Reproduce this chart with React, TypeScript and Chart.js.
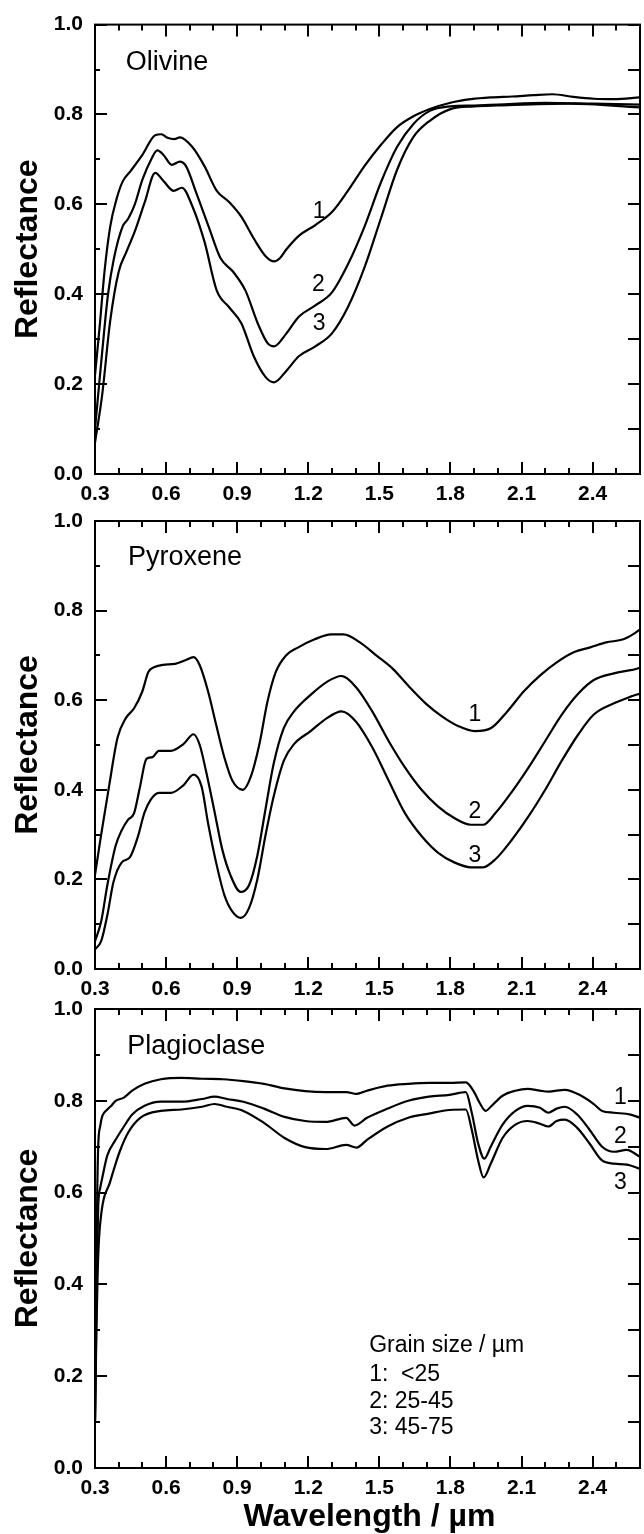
import React, { useEffect, useRef } from 'react';
import { Chart, registerables } from 'chart.js';
Chart.register(...registerables);

// ---------- tick values ----------
const xTickValues = [0.3, 0.6, 0.9, 1.2, 1.5, 1.8, 2.1, 2.4];
const yTickValues = [0.0, 0.2, 0.4, 0.6, 0.8, 1.0];
const xMinorValues = [0.3, 0.4, 0.5, 0.6, 0.7, 0.8, 0.9, 1.0, 1.1, 1.2, 1.3, 1.4, 1.5, 1.6, 1.7, 1.8, 1.9, 2.0, 2.1, 2.2, 2.3, 2.4, 2.5, 2.6];
const yMinorValues = [0.0, 0.1, 0.2, 0.3, 0.4, 0.5, 0.6, 0.7, 0.8, 0.9, 1.0];

// ---------- Olivine ----------
const olivine1Wl = [0.30, 0.32, 0.34, 0.364, 0.39, 0.416, 0.45, 0.50, 0.554, 0.58, 0.606, 0.635, 0.658, 0.71, 0.762, 0.814, 0.866, 0.918, 0.97, 1.021, 1.056, 1.08, 1.108, 1.16, 1.23, 1.30, 1.367, 1.437, 1.506, 1.575, 1.644, 1.713, 1.80, 1.886, 1.97, 2.06, 2.15, 2.23, 2.32, 2.405, 2.49, 2.6];
const olivine1R = [0.22, 0.33, 0.45, 0.55, 0.61, 0.65, 0.674, 0.71, 0.754, 0.756, 0.748, 0.745, 0.749, 0.728, 0.685, 0.63, 0.605, 0.572, 0.524, 0.484, 0.473, 0.48, 0.50, 0.53, 0.554, 0.583, 0.63, 0.685, 0.732, 0.772, 0.796, 0.812, 0.826, 0.834, 0.838, 0.84, 0.843, 0.845, 0.839, 0.835, 0.834, 0.838];
const olivine2Wl = [0.30, 0.33, 0.355, 0.38, 0.416, 0.44, 0.468, 0.50, 0.537, 0.563, 0.589, 0.624, 0.658, 0.684, 0.727, 0.78, 0.83, 0.883, 0.935, 0.987, 1.03, 1.056, 1.108, 1.16, 1.23, 1.30, 1.367, 1.437, 1.506, 1.575, 1.644, 1.713, 1.80, 1.90, 2.0, 2.2, 2.4, 2.6];
const olivine2R = [0.10, 0.27, 0.40, 0.48, 0.55, 0.568, 0.60, 0.655, 0.70, 0.72, 0.71, 0.688, 0.695, 0.685, 0.626, 0.55, 0.48, 0.45, 0.408, 0.335, 0.29, 0.284, 0.313, 0.35, 0.375, 0.404, 0.466, 0.55, 0.648, 0.728, 0.779, 0.808, 0.818, 0.82, 0.822, 0.826, 0.824, 0.822];
const olivine3Wl = [0.30, 0.33, 0.364, 0.40, 0.433, 0.468, 0.51, 0.554, 0.589, 0.632, 0.667, 0.71, 0.762, 0.814, 0.866, 0.918, 0.97, 1.021, 1.056, 1.108, 1.16, 1.23, 1.30, 1.367, 1.437, 1.506, 1.575, 1.644, 1.713, 1.80, 1.90, 2.0, 2.3, 2.6];
const olivine3R = [0.07, 0.175, 0.34, 0.45, 0.495, 0.54, 0.605, 0.67, 0.652, 0.63, 0.637, 0.597, 0.517, 0.408, 0.371, 0.335, 0.262, 0.215, 0.204, 0.23, 0.262, 0.284, 0.313, 0.371, 0.459, 0.568, 0.677, 0.75, 0.786, 0.812, 0.818, 0.82, 0.824, 0.816];
const olivineNumWl = [1.246, 1.243, 1.246];
const olivineNumR = [0.583, 0.422, 0.335];

// ---------- Pyroxene ----------
const pyroxene1Wl = [0.30, 0.326, 0.36, 0.395, 0.43, 0.465, 0.50, 0.525, 0.551, 0.586, 0.638, 0.681, 0.716, 0.742, 0.777, 0.811, 0.846, 0.88, 0.924, 0.958, 0.993, 1.028, 1.063, 1.106, 1.158, 1.227, 1.297, 1.349, 1.418, 1.487, 1.557, 1.626, 1.695, 1.764, 1.834, 1.903, 1.972, 2.04, 2.11, 2.18, 2.25, 2.32, 2.39, 2.457, 2.53, 2.57, 2.6];
const pyroxene1R = [0.21, 0.30, 0.41, 0.516, 0.56, 0.582, 0.62, 0.663, 0.674, 0.679, 0.681, 0.689, 0.696, 0.678, 0.62, 0.546, 0.472, 0.42, 0.40, 0.43, 0.50, 0.597, 0.663, 0.70, 0.718, 0.736, 0.747, 0.747, 0.729, 0.70, 0.67, 0.63, 0.593, 0.564, 0.542, 0.531, 0.538, 0.575, 0.62, 0.656, 0.685, 0.707, 0.718, 0.729, 0.736, 0.747, 0.758];
const pyroxene2Wl = [0.30, 0.326, 0.352, 0.387, 0.413, 0.439, 0.465, 0.49, 0.517, 0.543, 0.569, 0.62, 0.673, 0.716, 0.742, 0.768, 0.803, 0.837, 0.872, 0.915, 0.95, 0.985, 1.019, 1.054, 1.097, 1.14, 1.21, 1.279, 1.34, 1.40, 1.47, 1.539, 1.608, 1.678, 1.747, 1.816, 1.886, 1.938, 1.99, 2.06, 2.13, 2.2, 2.27, 2.34, 2.405, 2.49, 2.56, 2.6];
const pyroxene2R = [0.062, 0.106, 0.187, 0.275, 0.31, 0.333, 0.348, 0.407, 0.469, 0.473, 0.487, 0.487, 0.502, 0.524, 0.50, 0.443, 0.355, 0.267, 0.209, 0.172, 0.187, 0.253, 0.355, 0.458, 0.538, 0.575, 0.612, 0.641, 0.654, 0.63, 0.575, 0.509, 0.45, 0.40, 0.363, 0.337, 0.322, 0.322, 0.348, 0.396, 0.45, 0.509, 0.568, 0.615, 0.645, 0.66, 0.667, 0.672];
const pyroxene3Wl = [0.30, 0.326, 0.352, 0.378, 0.413, 0.447, 0.482, 0.508, 0.534, 0.569, 0.62, 0.673, 0.716, 0.75, 0.777, 0.811, 0.846, 0.88, 0.915, 0.95, 0.985, 1.019, 1.054, 1.097, 1.14, 1.21, 1.279, 1.34, 1.40, 1.47, 1.539, 1.608, 1.678, 1.747, 1.816, 1.886, 1.938, 1.99, 2.06, 2.13, 2.2, 2.27, 2.34, 2.405, 2.49, 2.56, 2.6];
const pyroxene3R = [0.044, 0.062, 0.12, 0.194, 0.238, 0.249, 0.297, 0.348, 0.377, 0.393, 0.393, 0.41, 0.434, 0.407, 0.326, 0.238, 0.165, 0.128, 0.114, 0.136, 0.20, 0.297, 0.385, 0.465, 0.502, 0.531, 0.56, 0.575, 0.553, 0.495, 0.421, 0.348, 0.297, 0.26, 0.238, 0.227, 0.227, 0.245, 0.289, 0.341, 0.40, 0.465, 0.524, 0.568, 0.593, 0.608, 0.615];
const pyroxeneNumWl = [1.903, 1.903, 1.903];
const pyroxeneNumR = [0.568, 0.352, 0.253];

// ---------- Plagioclase ----------
const plagioclase1Wl = [0.30, 0.305, 0.31, 0.314, 0.322, 0.331, 0.352, 0.37, 0.387, 0.422, 0.457, 0.509, 0.578, 0.665, 0.752, 0.839, 0.926, 1.013, 1.10, 1.187, 1.274, 1.36, 1.404, 1.448, 1.535, 1.622, 1.709, 1.796, 1.865, 1.90, 1.926, 1.949, 1.97, 2.02, 2.074, 2.126, 2.178, 2.213, 2.283, 2.352, 2.405, 2.44, 2.49, 2.56, 2.6];
const plagioclase1R = [0.10, 0.40, 0.62, 0.707, 0.745, 0.767, 0.781, 0.79, 0.80, 0.807, 0.822, 0.837, 0.847, 0.85, 0.848, 0.847, 0.843, 0.837, 0.827, 0.821, 0.819, 0.819, 0.815, 0.822, 0.833, 0.837, 0.839, 0.839, 0.84, 0.819, 0.793, 0.778, 0.787, 0.811, 0.822, 0.826, 0.822, 0.82, 0.824, 0.811, 0.793, 0.778, 0.774, 0.77, 0.763];
const plagioclase2Wl = [0.30, 0.306, 0.31, 0.314, 0.322, 0.331, 0.352, 0.387, 0.422, 0.457, 0.509, 0.578, 0.665, 0.752, 0.804, 0.857, 0.926, 1.013, 1.10, 1.187, 1.274, 1.36, 1.395, 1.448, 1.535, 1.622, 1.709, 1.796, 1.865, 1.89, 1.917, 1.943, 1.97, 2.02, 2.074, 2.126, 2.178, 2.213, 2.248, 2.283, 2.335, 2.387, 2.44, 2.49, 2.544, 2.6];
const plagioclase2R = [0.10, 0.35, 0.48, 0.574, 0.61, 0.633, 0.681, 0.715, 0.744, 0.77, 0.789, 0.798, 0.798, 0.804, 0.809, 0.804, 0.798, 0.783, 0.765, 0.756, 0.754, 0.763, 0.746, 0.763, 0.783, 0.80, 0.809, 0.813, 0.819, 0.774, 0.707, 0.674, 0.70, 0.748, 0.778, 0.789, 0.785, 0.774, 0.783, 0.787, 0.77, 0.737, 0.70, 0.689, 0.693, 0.678];
const plagioclase3Wl = [0.30, 0.306, 0.311, 0.317, 0.328, 0.338, 0.361, 0.378, 0.404, 0.439, 0.491, 0.578, 0.665, 0.752, 0.804, 0.857, 0.926, 1.013, 1.10, 1.187, 1.274, 1.36, 1.404, 1.448, 1.535, 1.622, 1.709, 1.796, 1.865, 1.89, 1.917, 1.94, 1.97, 2.02, 2.074, 2.126, 2.178, 2.213, 2.248, 2.283, 2.335, 2.387, 2.44, 2.49, 2.544, 2.6];
const plagioclase3R = [0.10, 0.30, 0.42, 0.50, 0.56, 0.589, 0.619, 0.648, 0.689, 0.73, 0.763, 0.778, 0.781, 0.787, 0.793, 0.787, 0.778, 0.752, 0.719, 0.699, 0.695, 0.704, 0.698, 0.715, 0.744, 0.763, 0.772, 0.78, 0.781, 0.737, 0.67, 0.633, 0.663, 0.719, 0.748, 0.756, 0.75, 0.744, 0.756, 0.759, 0.741, 0.707, 0.67, 0.663, 0.661, 0.652];
const plagioclaseNumWl = [2.517, 2.517, 2.517];
const plagioclaseNumR = [0.807, 0.722, 0.622];

// ---------- texts ----------
const curveNumbers = ['1', '2', '3'];
const mineralNames = ['Olivine', 'Pyroxene', 'Plagioclase'];
const mineralNameWl = [0.43, 0.439, 0.436];
const mineralNameR = [0.915, 0.919, 0.919];
const legendLines = ['Grain size / µm', '1:  <25', '2: 25-45', '3: 45-75'];
const legendWl = 1.457;
const legendR = [0.267, 0.204, 0.144, 0.087];
const yAxisTitle = 'Reflectance';
const xAxisTitle = 'Wavelength / µm';

const FONT = "'Liberation Sans', Arial, Helvetica, sans-serif";
const W = 644;
const H = 1534;

type PanelCfg = {
  name: string;
  nameWl: number;
  nameR: number;
  top: number;
  bottom: number;
  axisH: number;
  curves: { wl: number[]; r: number[] }[];
  numWl: number[];
  numR: number[];
  legend: boolean;
  xTitle: boolean;
};

const panels: PanelCfg[] = [
  {
    name: mineralNames[0], nameWl: mineralNameWl[0], nameR: mineralNameR[0], top: 16, bottom: 474, axisH: 40,
    curves: [{ wl: olivine1Wl, r: olivine1R }, { wl: olivine2Wl, r: olivine2R }, { wl: olivine3Wl, r: olivine3R }],
    numWl: olivineNumWl, numR: olivineNumR, legend: false, xTitle: false,
  },
  {
    name: mineralNames[1], nameWl: mineralNameWl[1], nameR: mineralNameR[1], top: 521, bottom: 969, axisH: 40,
    curves: [{ wl: pyroxene1Wl, r: pyroxene1R }, { wl: pyroxene2Wl, r: pyroxene2R }, { wl: pyroxene3Wl, r: pyroxene3R }],
    numWl: pyroxeneNumWl, numR: pyroxeneNumR, legend: false, xTitle: false,
  },
  {
    name: mineralNames[2], nameWl: mineralNameWl[2], nameR: mineralNameR[2], top: 1009, bottom: 1468, axisH: 66,
    curves: [{ wl: plagioclase1Wl, r: plagioclase1R }, { wl: plagioclase2Wl, r: plagioclase2R }, { wl: plagioclase3Wl, r: plagioclase3R }],
    numWl: plagioclaseNumWl, numR: plagioclaseNumR, legend: true, xTitle: true,
  },
];

const near = (a: number, b: number) => Math.abs(a - b) < 1e-6;

function makeDecorPlugin(p: PanelCfg) {
  return {
    id: 'decor',
    afterDraw(chart: any) {
      const ctx = chart.ctx as CanvasRenderingContext2D;
      const xs = chart.scales.x;
      const ys = chart.scales.y;
      const { left, right, top, bottom } = chart.chartArea;
      ctx.save();
      ctx.strokeStyle = '#000';
      ctx.fillStyle = '#000';
      ctx.lineWidth = 2;
      ctx.strokeRect(left, top, right - left, bottom - top);
      ctx.beginPath();
      for (const v of xMinorValues) {
        const px = Math.round(xs.getPixelForValue(v));
        const major = xTickValues.some((t) => near(t, v));
        const len = major ? 12 : 6;
        ctx.moveTo(px, bottom);
        ctx.lineTo(px, bottom - len);
        ctx.moveTo(px, top);
        ctx.lineTo(px, top + len);
      }
      for (const v of yMinorValues) {
        const py = Math.round(ys.getPixelForValue(v));
        const major = yTickValues.some((t) => near(t, v));
        const ll = major ? 12 : 5;
        ctx.moveTo(left, py);
        ctx.lineTo(left + ll, py);
        ctx.moveTo(right, py);
        ctx.lineTo(right - 12, py);
      }
      ctx.stroke();

      // mineral name
      ctx.textBaseline = 'middle';
      ctx.textAlign = 'left';
      ctx.font = `27px ${FONT}`;
      ctx.fillText(p.name, xs.getPixelForValue(p.nameWl), ys.getPixelForValue(p.nameR));

      // curve numbers
      ctx.textAlign = 'center';
      ctx.font = `23px ${FONT}`;
      curveNumbers.forEach((n, i) => {
        ctx.fillText(n, xs.getPixelForValue(p.numWl[i]), ys.getPixelForValue(p.numR[i]));
      });

      // legend
      if (p.legend) {
        ctx.textAlign = 'left';
        ctx.font = `23px ${FONT}`;
        legendLines.forEach((t, i) => {
          ctx.fillText(t, xs.getPixelForValue(legendWl), ys.getPixelForValue(legendR[i]));
        });
      }

      // y title
      ctx.save();
      ctx.font = `bold 32px ${FONT}`;
      ctx.textAlign = 'center';
      ctx.textBaseline = 'middle';
      ctx.translate(left - 67, (top + bottom) / 2);
      ctx.rotate(-Math.PI / 2);
      ctx.fillText(yAxisTitle, 0, 0);
      ctx.restore();

      if (p.xTitle) {
        ctx.font = `bold 32px ${FONT}`;
        ctx.textAlign = 'center';
        ctx.textBaseline = 'middle';
        ctx.fillText(xAxisTitle, (left + right) / 2 + 2, bottom + 49);
      }
      ctx.restore();
    },
  };
}

function Panel({ p }: { p: PanelCfg }) {
  const ref = useRef<HTMLCanvasElement | null>(null);
  useEffect(() => {
    if (!ref.current) return;
    const chart = new Chart(ref.current, {
      type: 'line',
      data: {
        datasets: p.curves.map((c) => ({
          data: c.wl.map((w, i) => ({ x: w, y: c.r[i] })),
          borderColor: '#000',
          borderWidth: 2.2,
          pointRadius: 0,
          fill: false,
          cubicInterpolationMode: 'monotone' as const,
        })),
      },
      options: {
        animation: false,
        responsive: false,
        devicePixelRatio: 1,
        layout: { padding: { left: 0, right: W - 640, top: p.top, bottom: H - p.bottom - p.axisH } },
        plugins: { legend: { display: false }, tooltip: { enabled: false } },
        scales: {
          x: {
            type: 'linear',
            min: 0.3,
            max: 2.6,
            grid: { display: false, drawTicks: false },
            border: { display: false },
            afterBuildTicks: (s: any) => {
              s.ticks = xTickValues.map((v) => ({ value: v }));
            },
            afterFit: (s: any) => {
              s.height = p.axisH;
            },
            ticks: {
              autoSkip: false,
              maxRotation: 0,
              padding: 8,
              color: '#000',
              font: { family: FONT, size: 21, weight: 'bold' },
              callback: (v: any) => Number(v).toFixed(1),
            },
          },
          y: {
            type: 'linear',
            min: 0,
            max: 1,
            grid: { display: false, drawTicks: false },
            border: { display: false },
            afterBuildTicks: (s: any) => {
              s.ticks = yTickValues.map((v) => ({ value: v }));
            },
            afterFit: (s: any) => {
              s.width = 95;
            },
            ticks: {
              autoSkip: false,
              padding: 12,
              color: '#000',
              font: { family: FONT, size: 21, weight: 'bold' },
              callback: (v: any) => Number(v).toFixed(1),
            },
          },
        },
      } as any,
      plugins: [makeDecorPlugin(p)],
    });
    return () => chart.destroy();
  }, [p]);
  return <canvas ref={ref} width={W} height={H} style={{ position: 'absolute', left: 0, top: 0, width: W, height: H }} />;
}

export default function App() {
  return (
    <div style={{ position: 'absolute', left: 0, top: 0, width: W, height: H, background: '#fff' }}>
      {panels.map((p) => (
        <Panel key={p.name} p={p} />
      ))}
    </div>
  );
}
